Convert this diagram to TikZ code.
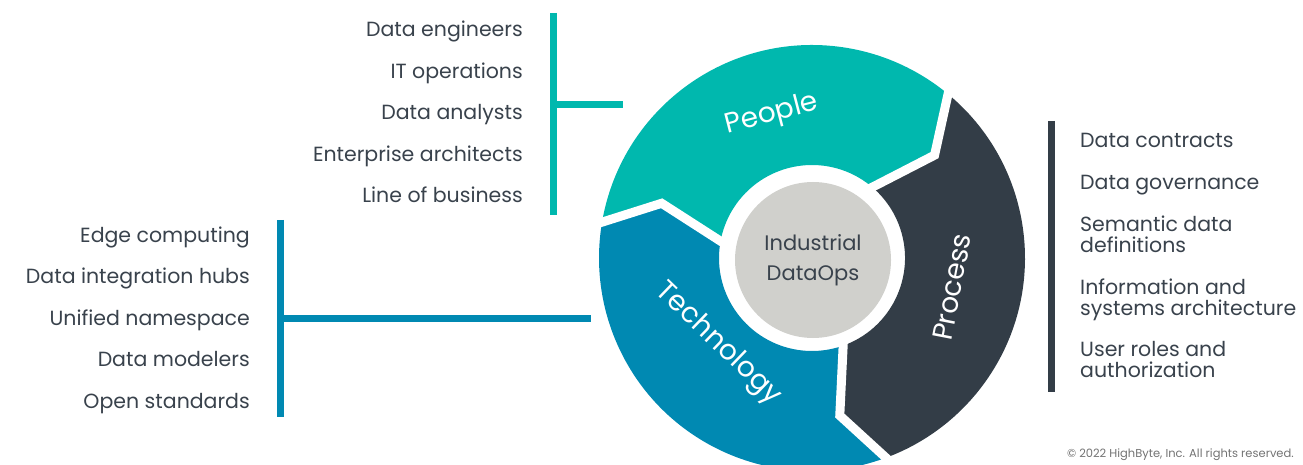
\documentclass[tikz,border=0pt]{standalone}
\usepackage{fontspec}
\setmainfont{Poppins}
\usetikzlibrary{calc}

\definecolor{peoplecol}{HTML}{00B8AE}
\definecolor{techcol}{HTML}{0089B2}
\definecolor{proccol}{HTML}{333D47}
\definecolor{corecol}{HTML}{D0D0CC}
\definecolor{inkcol}{HTML}{39424C}

\begin{document}
\begin{tikzpicture}[x=1pt, y=1pt,
    item/.style={font=\fontsize{20.5}{21}\selectfont, text=inkcol, inner sep=0pt},
    seglabel/.style={font=\fontsize{28}{28}\selectfont, text=white, inner sep=0pt},
    bar/.style={line width=7pt},
    gap/.style={white, line width=9pt}]
  \clip (0,0) rectangle (1303,464);

  % the three arrows of the ring
  \coordinate (C) at (812,206);
  \begin{scope}[shift={(C)}]
    \fill[techcol] (291.5:213) arc[start angle=291.5, end angle=171.5, radius=213]
      -- (160:160) -- (171.5:93) arc[start angle=171.5, end angle=291.5, radius=93]
      -- (280:160) -- cycle;
    \fill[peoplecol] (171.5:213) arc[start angle=171.5, end angle=51.5, radius=213]
      -- (40:160) -- (51.5:93) arc[start angle=51.5, end angle=171.5, radius=93]
      -- (160:160) -- cycle;
    \fill[proccol] (51.5:213) arc[start angle=51.5, end angle=-68.5, radius=213]
      -- (-80:160) -- (-68.5:93) arc[start angle=-68.5, end angle=51.5, radius=93]
      -- (40:160) -- cycle;
    % white joints between the arrows
    \draw[gap] (171.5:222) -- (160:160) -- (171.5:86);
    \draw[gap] (51.5:222) -- (40:160) -- (51.5:86);
    \draw[gap] (-68.5:222) -- (-80:160) -- (-68.5:86);
  \end{scope}

  \node[circle, fill=corecol, minimum size=156pt, inner sep=0pt, align=center,
    text=inkcol, font=\fontsize{21}{30}\selectfont] (core) at (813,204) {Industrial\\DataOps};

  \node[seglabel, rotate=14.5] (people) at (772,349) {People};
  \node[seglabel, rotate=79] (process) at (952,177) {Process};
  \node[seglabel, rotate=-44] (technology) at (718,120) {Technology};

  % People list
  \node[item, anchor=base east] (ppl1) at (523,427) {Data engineers};
  \node[item, anchor=base east] (ppl2) at (523,385) {IT operations};
  \node[item, anchor=base east] (ppl3) at (523,344) {Data analysts};
  \node[item, anchor=base east] (ppl4) at (523,302) {Enterprise architects};
  \node[item, anchor=base east] (ppl5) at (523,261) {Line of business};
  \coordinate (pplTop) at (553,451);
  \coordinate (pplBot) at (553,249);
  \coordinate (pplMid) at (553,359);
  \coordinate (pplEnd) at (623,359);
  \draw[bar, peoplecol] (pplTop) -- (pplBot);
  \draw[bar, peoplecol] (pplMid) -- (pplEnd);

  % Technology list
  \node[item, anchor=base east] (tec1) at (250,222) {Edge computing};
  \node[item, anchor=base east] (tec2) at (250,181) {Data integration hubs};
  \node[item, anchor=base east] (tec3) at (250,139) {Unified namespace};
  \node[item, anchor=base east] (tec4) at (250,98) {Data modelers};
  \node[item, anchor=base east] (tec5) at (250,56) {Open standards};
  \coordinate (tecTop) at (280,244);
  \coordinate (tecBot) at (280,47);
  \coordinate (tecMid) at (280,146);
  \coordinate (tecEnd) at (591,146);
  \draw[bar, techcol] (tecTop) -- (tecBot);
  \draw[bar, techcol] (tecMid) -- (tecEnd);

  % Process list
  \coordinate (proTop) at (1051,343);
  \coordinate (proBot) at (1051,72);
  \draw[bar, proccol] (proTop) -- (proBot);
  \node[item, anchor=base west] (pro1) at (1080,316) {Data contracts};
  \node[item, anchor=base west] (pro2) at (1080,274) {Data governance};
  \node[item, anchor=base west] (pro3) at (1080,233) {\begin{tabular}[t]{@{}l@{}}Semantic data\\ definitions\end{tabular}};
  \node[item, anchor=base west] (pro4) at (1080,170) {\begin{tabular}[t]{@{}l@{}}Information and\\ systems architecture\end{tabular}};
  \node[item, anchor=base west] (pro5) at (1080,108) {\begin{tabular}[t]{@{}l@{}}User roles and\\ authorization\end{tabular}};

  \node[anchor=base east, inner sep=0pt, font=\fontsize{11.5}{12}\selectfont, text=black!55] (copy) at (1294,7) {© 2022 HighByte, Inc. All rights reserved.};
\end{tikzpicture}
\end{document}
